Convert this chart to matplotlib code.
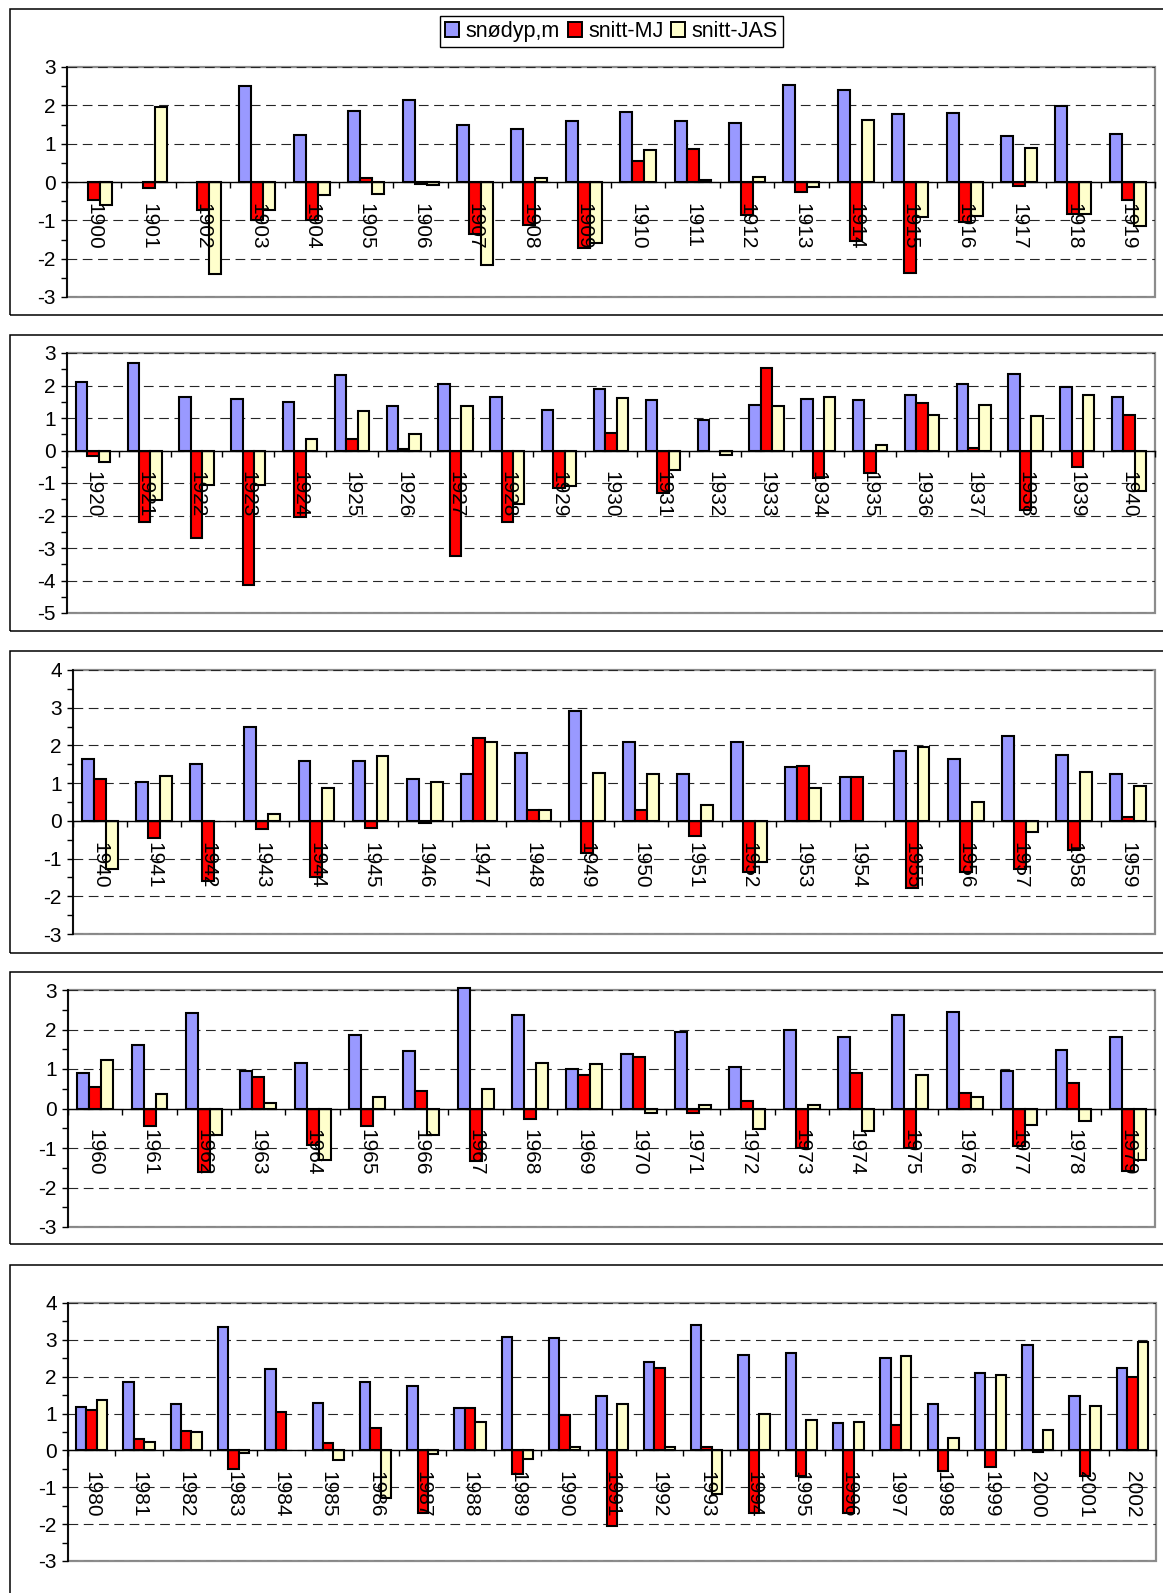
import numpy as np
import matplotlib
matplotlib.use("Agg")
import matplotlib.pyplot as plt
from matplotlib.patches import Rectangle, Patch
from matplotlib.ticker import MultipleLocator

plt.rcParams['font.family'] = ['Liberation Sans', 'DejaVu Sans']
plt.rcParams['lines.scale_dashes'] = False
plt.rcParams['axes.unicode_minus'] = False

nan = np.nan
series_names = ["snødyp,m", "snitt-MJ", "snitt-JAS"]

years_1 = [str(y) for y in range(1900, 1920)]
snodyp_1 = [nan, nan, nan, 2.50, 1.23, 1.84, 2.14, 1.48, 1.37, 1.60, 1.83, 1.58, 1.55, 2.54, 2.41, 1.77, 1.80, 1.21, 1.98, 1.24]
mj_1 = [-0.46, -0.16, -0.72, -1.00, -1.00, 0.10, -0.05, -1.35, -1.12, -1.72, 0.55, 0.86, -0.85, -0.26, -1.54, -2.37, -1.05, -0.11, -0.83, -0.46]
jas_1 = [-0.61, 1.96, -2.40, -0.72, -0.34, -0.30, -0.07, -2.16, 0.10, -1.59, 0.84, 0.06, 0.14, -0.14, 1.62, -0.91, -0.88, 0.88, -0.83, -1.14]

years_2 = [str(y) for y in range(1920, 1941)]
snodyp_2 = [2.12, 2.69, 1.66, 1.57, 1.48, 2.31, 1.37, 2.05, 1.65, 1.25, 1.90, 1.55, 0.94, 1.40, 1.59, 1.55, 1.70, 2.05, 2.35, 1.96, 1.65]
mj_2 = [-0.16, -2.20, -2.70, -4.14, -2.05, 0.34, 0.05, -3.25, -2.20, -1.15, 0.55, -1.31, nan, 2.54, -0.84, -0.70, 1.45, 0.08, -1.82, -0.50, 1.10]
jas_2 = [-0.35, -1.53, -1.05, -1.07, 0.36, 1.22, 0.51, 1.36, -1.64, -1.10, 1.63, -0.59, -0.14, 1.36, 1.66, 0.16, 1.08, 1.40, 1.05, 1.72, -1.26]

years_3 = [str(y) for y in range(1940, 1960)]
snodyp_3 = [1.65, 1.04, 1.50, 2.50, 1.58, 1.58, 1.10, 1.25, 1.80, 2.90, 2.10, 1.25, 2.10, 1.42, 1.17, 1.86, 1.65, 2.26, 1.75, 1.25]
mj_3 = [1.10, -0.45, -1.60, -0.21, -1.50, -0.20, -0.05, 2.20, 0.29, -0.84, 0.29, -0.41, -1.35, 1.46, 1.17, -1.77, -1.35, -1.28, -0.76, 0.09]
jas_3 = [-1.27, 1.18, nan, 0.18, 0.88, 1.73, 1.04, 2.10, 0.29, 1.27, 1.23, 0.43, -1.10, 0.88, nan, 1.97, 0.50, -0.30, 1.30, 0.92]

years_4 = [str(y) for y in range(1960, 1980)]
snodyp_4 = [0.90, 1.60, 2.41, 0.94, 1.14, 1.85, 1.45, 3.04, 2.36, 0.99, 1.39, 1.93, 1.04, 2.00, 1.80, 2.36, 2.44, 0.95, 1.49, 1.80]
mj_4 = [0.55, -0.44, -1.62, 0.80, -0.92, -0.44, 0.44, -1.32, -0.26, 0.84, 1.30, -0.11, 0.19, -1.01, 0.90, -1.01, 0.40, -0.94, 0.64, -1.58]
jas_4 = [1.24, 0.36, -0.68, 0.13, -1.31, 0.30, -0.68, 0.50, 1.16, 1.13, -0.11, 0.09, -0.52, 0.09, -0.58, 0.86, 0.30, -0.43, -0.32, -1.31]

years_5 = [str(y) for y in range(1980, 2003)]
snodyp_5 = [1.19, 1.86, 1.25, 3.36, 2.20, 1.29, 1.86, 1.75, 1.16, 3.09, 3.04, 1.49, 2.41, 3.41, 2.60, 2.64, 0.74, 2.51, 1.25, 2.10, 2.86, 1.49, 2.24]
mj_5 = [1.09, 0.31, 0.54, -0.50, 1.05, 0.21, 0.62, -1.71, 1.16, -0.65, 0.96, -2.05, 2.24, 0.10, -1.71, -0.70, -1.71, 0.70, -0.56, -0.44, -0.05, -0.70, 2.00]
jas_5 = [1.37, 0.24, 0.51, -0.07, nan, -0.27, -1.30, -0.09, 0.77, -0.24, 0.10, 1.27, 0.10, -1.17, 0.98, 0.83, 0.77, 2.56, 0.33, 2.04, 0.56, 1.20, 2.93]

ylims = [(-3, 3), (-5, 3), (-3, 4), (-3, 3), (-3, 4)]

BLUE = '#9999FF'
RED = '#FF0000'
YELLOW = '#FFFFCC'
W = 0.22
FS = 15
LFS = 15.5

FIG_W, FIG_H = 1163, 1593
fig = plt.figure(figsize=(FIG_W / 100, FIG_H / 100), dpi=100)
fig.patch.set_facecolor('white')

# plot-area pixel boxes (left, right, top, bottom) and outer panel boxes (top, bottom)
boxes = [(67, 1155, 67, 297), (67, 1155, 353, 613), (73, 1155, 670, 934),
         (68, 1155, 990, 1227), (68, 1156, 1303, 1561)]
outer = [(9, 315), (335, 631), (651, 953), (972, 1244), (1265, 1700)]

for (t, b) in outer:
    fig.add_artist(Rectangle((10 / FIG_W, 1 - b / FIG_H), 1.2, (b - t) / FIG_H,
                             transform=fig.transFigure, fill=False,
                             edgecolor='black', lw=1.1, clip_on=False))

panels = [(years_1, snodyp_1, mj_1, jas_1), (years_2, snodyp_2, mj_2, jas_2),
          (years_3, snodyp_3, mj_3, jas_3), (years_4, snodyp_4, mj_4, jas_4),
          (years_5, snodyp_5, mj_5, jas_5)]

for (yrs, s, m, j), (l, r, t, b), (ylo, yhi) in zip(panels, boxes, ylims):
    ax = fig.add_axes([l / FIG_W, 1 - b / FIG_H, (r - l) / FIG_W, (b - t) / FIG_H])
    ax.set_facecolor('white')
    x = np.arange(len(yrs))
    kw = dict(width=W, edgecolor='black', linewidth=1.5, zorder=3, clip_on=False)
    ax.bar(x - W, s, color=BLUE, **kw)
    ax.bar(x, m, color=RED, **kw)
    ax.bar(x + W, j, color=YELLOW, **kw)
    ax.set_xlim(-0.5, len(yrs) - 0.5)
    ax.set_ylim(ylo, yhi)

    ax.spines['top'].set_visible(False)
    ax.spines['right'].set_visible(False)
    ax.spines['bottom'].set_position(('data', 0))
    ax.spines['bottom'].set_linewidth(1.0)
    ax.spines['bottom'].set_zorder(5)
    ax.spines['left'].set_linewidth(1.3)
    ax.spines['left'].set_zorder(5)
    ax.add_patch(Rectangle((0, 0), 1, 1, transform=ax.transAxes, fill=False,
                           edgecolor='#8C8C8C', lw=1.6, zorder=0.8, clip_on=False))

    ax.set_xticks(x)
    ax.set_xticklabels(yrs, rotation=-90)
    ax.set_xticks(np.arange(len(yrs) + 1) - 0.5, minor=True)
    ax.tick_params(axis='x', which='major', length=0, pad=15, labelsize=FS)
    ax.tick_params(axis='x', which='minor', length=4.5, width=1.0, direction='out')
    ax.xaxis.set_zorder(5)

    ax.set_yticks(np.arange(ylo, yhi + 1))
    ax.yaxis.set_minor_locator(MultipleLocator(0.5))
    ax.tick_params(axis='y', which='major', length=4, width=1.0, labelsize=FS, pad=4)
    ax.tick_params(axis='y', which='minor', length=4, width=1.0)
    ax.grid(axis='y', which='major', linestyle=(0, (7, 4)), color='#262626', lw=0.8, zorder=1)

handles = [Patch(facecolor=c, edgecolor='black', lw=1.4) for c in (BLUE, RED, YELLOW)]
leg = fig.legend(handles, series_names, loc='center',
                 bbox_to_anchor=(611.5 / FIG_W, 1 - 31.5 / FIG_H), ncol=3,
                 frameon=True, fancybox=False, edgecolor='black', framealpha=1,
                 fontsize=LFS, handlelength=0.65, handleheight=0.65, handletextpad=0.3,
                 columnspacing=0.35, borderpad=0.25, borderaxespad=0)
leg.get_frame().set_linewidth(1.0)

fig.savefig('out.png', dpi=100, facecolor='white')
